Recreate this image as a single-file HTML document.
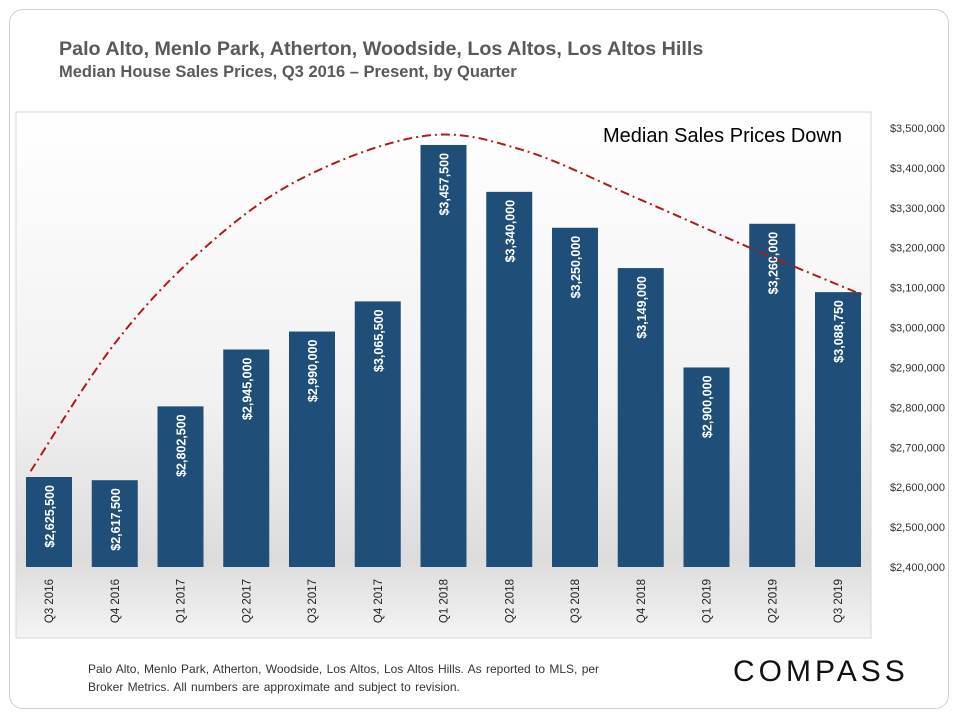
<!DOCTYPE html>
<html><head><meta charset="utf-8"><style>
body{margin:0;background:#fff;font-family:"Liberation Sans",sans-serif;}
#wrap{position:relative;width:960px;height:720px;overflow:hidden;}
.card{position:absolute;left:9px;top:9px;width:940px;height:700px;border:1px solid #cfcfcf;border-radius:14px;box-sizing:border-box;}
.t1{position:absolute;left:59px;top:38px;font-size:19.7px;font-weight:bold;color:#595959;}
.t2{position:absolute;left:59px;top:63px;font-size:16.5px;font-weight:bold;color:#595959;}
.foot{position:absolute;left:88px;top:660px;font-size:12px;color:#333;line-height:18px;word-spacing:1px;}
.logo{position:absolute;left:733px;top:655px;font-size:30px;letter-spacing:4px;color:#111;}
</style></head><body><div id="wrap">
<div class="card"></div>
<div class="t1">Palo Alto, Menlo Park, Atherton, Woodside, Los Altos, Los Altos Hills</div>
<div class="t2">Median House Sales Prices, Q3 2016 – Present, by Quarter</div>
<svg id="chart" width="960" height="720" style="position:absolute;left:0;top:0">
<defs><linearGradient id="bg" x1="0" y1="0" x2="0" y2="1">
<stop offset="0" stop-color="#ffffff"/><stop offset="0.55" stop-color="#f1f1f1"/><stop offset="0.85" stop-color="#dcdcdc"/><stop offset="1" stop-color="#f4f4f4"/></linearGradient></defs>
<rect x="16" y="112" width="855" height="526" fill="url(#bg)" stroke="#d6d6d6"/>
<g id="bars"></g><g id="trend"></g><g id="yaxis"></g><g id="xaxis"></g>
<text x="842" y="142" text-anchor="end" font-size="20" fill="#000">Median Sales Prices Down</text>
</svg>
<div class="foot">Palo Alto, Menlo Park, Atherton, Woodside, Los Altos, Los Altos Hills.  As reported to MLS, per<br>Broker Metrics. All numbers are approximate and subject to revision.</div>
<div class="logo">COMPASS</div>
</div>
<script>
const categories=["Q3 2016","Q4 2016","Q1 2017","Q2 2017","Q3 2017","Q4 2017","Q1 2018","Q2 2018","Q3 2018","Q4 2018","Q1 2019","Q2 2019","Q3 2019"];
const values=[2625500,2617500,2802500,2945000,2990000,3065500,3457500,3340000,3250000,3149000,2900000,3260000,3088750];
const yTicks=[2400000,2500000,2600000,2700000,2800000,2900000,3000000,3100000,3200000,3300000,3400000,3500000];
const trendIdx=[-0.28,1,2.3,3.8,5.7,7.2,9,10.8,12.4];
const trendVal=[2640000,2960000,3190000,3370000,3480000,3445000,3320000,3190000,3080000];
const NS="http://www.w3.org/2000/svg";
const yMin=2400000,yMax=3500000,yB=567,yT=128;
const y=v=>yB-(v-yMin)/(yMax-yMin)*(yB-yT);
const x=i=>49+i*65.75;
const fmt=v=>"$"+v.toLocaleString("en-US");
function mk(t,a,p){const e=document.createElementNS(NS,t);for(const k in a)e.setAttribute(k,a[k]);p.appendChild(e);return e;}
const gb=document.getElementById("bars"),gx=document.getElementById("xaxis"),gy=document.getElementById("yaxis"),gt=document.getElementById("trend");
values.forEach((v,i)=>{
 const r=mk("rect",{x:x(i)-23,y:y(v),width:46,height:yB-y(v),fill:"#1f4e79"},gb);
 
 
 const t=mk("text",{transform:`translate(${x(i)+5},${y(v)+8}) rotate(-90)`,"text-anchor":"end","font-size":"12.5","font-weight":"bold",fill:"#fff"},gb);
 t.textContent=fmt(v);
 
 
 const c=mk("text",{transform:`translate(${x(i)+4},${yB+12}) rotate(-90)`,"text-anchor":"end","font-size":"11.5",fill:"#222"},gx);
 c.textContent=categories[i];
 
 
});
yTicks.forEach(v=>{
 const t=mk("text",{x:945,y:y(v)+4,"text-anchor":"end","font-size":"11",fill:"#333"},gy);
 t.textContent=fmt(v);
 
 
});
let pts=trendIdx.map((t,i)=>[x(t),y(trendVal[i])]);
let d="M"+pts[0][0]+","+pts[0][1];
for(let i=0;i<pts.length-1;i++){const p0=pts[Math.max(i-1,0)],p1=pts[i],p2=pts[i+1],p3=pts[Math.min(i+2,pts.length-1)];
 d+=` C${p1[0]+(p2[0]-p0[0])/6},${p1[1]+(p2[1]-p0[1])/6} ${p2[0]-(p3[0]-p1[0])/6},${p2[1]-(p3[1]-p1[1])/6} ${p2[0]},${p2[1]}`;}
const tp=mk("path",{d:d,fill:"none",stroke:"#b01a1a","stroke-width":"2","stroke-dasharray":"9,4,2,4"},gt);


</script></body></html>
